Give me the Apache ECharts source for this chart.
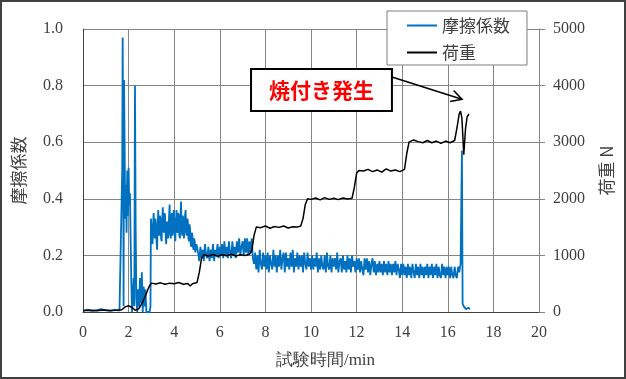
<!DOCTYPE html>
<html><head><meta charset="utf-8">
<script src="https://cdn.jsdelivr.net/npm/echarts@6/dist/echarts.min.js"></script>
<style>html,body{margin:0;padding:0;background:#fff}#c{width:626px;height:379px}</style>
</head><body><div id="c"></div>
<script>
// ---- data (time in min) ----
const frictionEarly = [[0,0.005],[0.2,0.008],[0.4,0.004],[0.6,0.007],[0.8,0.01],[1.0,0.006],[1.2,0.004],[1.4,0.008],[1.6,0.005],[1.68,0.01],
  [1.72,0.5],[1.74,0.97],[1.76,0.6],[1.78,0.02],[1.80,0.82],[1.83,0.55],[1.85,0.33],[1.88,0.45],[1.91,0.28],[1.94,0.50],[1.97,0.34],[2.00,0.51],
  [2.03,0.38],[2.06,0.42],[2.09,0.25],[2.12,0.10],[2.15,0.0],[2.18,0.05],[2.22,0.12],[2.25,0.02],[2.28,0.80],[2.31,0.30],[2.34,0.05],[2.38,0.0],
  [2.42,0.08],[2.46,0.02],[2.50,0.12],[2.54,0.03],[2.58,0.14],[2.62,0.0],[2.66,0.09],[2.70,0.02],[2.74,0.08],[2.78,0.0],[2.85,0.0],[2.92,0.0],[2.96,0.02]];
const frictionRunIn = [[2.98,0.33],[3.00,0.30],[3.025,0.26],[3.05,0.24],[3.075,0.31],[3.10,0.35],[3.125,0.28],[3.15,0.26],[3.175,0.33],[3.20,0.31],[3.225,0.25],[3.25,0.22],
  [3.275,0.30],[3.30,0.36],[3.325,0.29],[3.35,0.27],[3.375,0.34],[3.40,0.33],[3.425,0.26],[3.45,0.25],[3.475,0.32],
  [3.50,0.37],[3.525,0.30],[3.55,0.28],[3.575,0.35],[3.60,0.34],[3.625,0.27],[3.65,0.24],[3.675,0.31],[3.70,0.32],[3.725,0.26],[3.75,0.27],
  [3.775,0.34],[3.80,0.38],[3.825,0.29],[3.85,0.26],[3.875,0.32],[3.90,0.35],[3.925,0.27],[3.95,0.29],[3.975,0.36],[4.00,0.33],
  [4.025,0.27],[4.05,0.25],[4.075,0.32],[4.10,0.36],[4.125,0.29],[4.15,0.28],[4.175,0.35],[4.20,0.34],[4.225,0.27],[4.25,0.26],
  [4.275,0.33],[4.30,0.39],[4.325,0.30],[4.35,0.27],[4.375,0.34],[4.40,0.33],[4.425,0.26],[4.45,0.28],[4.475,0.34],[4.50,0.36],[4.525,0.29],[4.55,0.27],
  [4.575,0.33],[4.60,0.32],[4.625,0.26],[4.65,0.25],[4.675,0.31],[4.70,0.29],[4.725,0.24],[4.75,0.23],[4.775,0.28],[4.80,0.27],[4.825,0.23],[4.85,0.22],
  [4.875,0.26],[4.90,0.25],[4.925,0.21],[4.95,0.21],[4.975,0.24],[5.00,0.23]];
const frictionSteady = [
  [5.05,0.21],[5.10,0.18],[5.15,0.23],[5.20,0.19],[5.25,0.22],[5.30,0.18],[5.35,0.24],[5.40,0.20],[5.45,0.19],[5.50,0.23],
  [5.55,0.18],[5.60,0.22],[5.65,0.19],[5.70,0.24],[5.75,0.18],[5.80,0.22],[5.85,0.20],[5.90,0.24],[5.95,0.19],[6.00,0.23],
  [6.05,0.20],[6.10,0.24],[6.15,0.19],[6.20,0.25],[6.25,0.20],[6.30,0.23],[6.35,0.19],[6.40,0.25],[6.45,0.21],[6.50,0.19],
  [6.55,0.25],[6.60,0.20],[6.65,0.23],[6.70,0.19],[6.75,0.25],[6.80,0.21],[6.85,0.26],[6.90,0.20],[6.95,0.23],[7.00,0.25],
  [7.05,0.20],[7.10,0.26],[7.15,0.21],[7.20,0.26],[7.25,0.20],[7.30,0.25],[7.35,0.21],[7.40,0.26],[7.45,0.19],[7.50,0.17],
  [7.55,0.21],[7.60,0.15],[7.65,0.20],[7.70,0.14],[7.75,0.22],[7.80,0.17],[7.85,0.15],[7.90,0.21],[7.95,0.16],[8.00,0.20],
  [8.05,0.15],[8.10,0.21],[8.15,0.14],[8.20,0.20],[8.25,0.17],[8.30,0.15],[8.35,0.22],[8.40,0.16],[8.45,0.20],[8.50,0.14],
  [8.55,0.20],[8.60,0.16],[8.65,0.22],[8.70,0.15],[8.75,0.19],[8.80,0.21],[8.85,0.14],[8.90,0.21],[8.95,0.16],[9.00,0.19],
  [9.05,0.15],[9.10,0.21],[9.15,0.16],[9.20,0.22],[9.25,0.14],[9.30,0.19],[9.35,0.16],[9.40,0.21],[9.45,0.15],[9.50,0.20],
  [9.55,0.16],[9.60,0.20],[9.65,0.14],[9.70,0.21],[9.75,0.17],[9.80,0.15],[9.85,0.21],[9.90,0.16],[9.95,0.19],[10.00,0.15],
  [10.05,0.20],[10.10,0.15],[10.15,0.19],[10.20,0.16],[10.25,0.21],[10.30,0.14],[10.35,0.19],[10.40,0.15],[10.45,0.20],[10.50,0.16],
  [10.55,0.15],[10.60,0.20],[10.65,0.14],[10.70,0.21],[10.75,0.16],[10.80,0.15],[10.85,0.20],[10.90,0.14],[10.95,0.19],[11.00,0.16],
  [11.05,0.19],[11.10,0.15],[11.15,0.21],[11.20,0.14],[11.25,0.18],[11.30,0.19],[11.35,0.14],[11.40,0.20],[11.45,0.15],[11.50,0.18],
  [11.55,0.14],[11.60,0.20],[11.65,0.15],[11.70,0.19],[11.75,0.14],[11.80,0.20],[11.85,0.16],[11.90,0.18],[11.95,0.14],[12.00,0.19],
  [12.05,0.15],[12.10,0.19],[12.15,0.14],[12.20,0.18],[12.25,0.15],[12.30,0.13],[12.35,0.19],[12.40,0.15],[12.45,0.19],[12.50,0.14],
  [12.55,0.18],[12.60,0.13],[12.65,0.17],[12.70,0.19],[12.75,0.14],[12.80,0.18],[12.85,0.13],[12.90,0.17],[12.95,0.14],[13.00,0.18],
  [13.05,0.14],[13.10,0.17],[13.15,0.13],[13.20,0.18],[13.25,0.14],[13.30,0.17],[13.35,0.13],[13.40,0.18],[13.45,0.14],[13.50,0.17],
  [13.55,0.13],[13.60,0.17],[13.65,0.14],[13.70,0.18],[13.75,0.13],[13.80,0.17],[13.85,0.15],[13.90,0.12],[13.95,0.17],[14.00,0.13],
  [14.05,0.17],[14.10,0.13],[14.15,0.16],[14.20,0.12],[14.25,0.17],[14.30,0.13],[14.35,0.16],[14.40,0.12],[14.45,0.17],[14.50,0.14],
  [14.55,0.12],[14.60,0.17],[14.65,0.13],[14.70,0.16],[14.75,0.12],[14.80,0.17],[14.85,0.13],[14.90,0.16],[14.95,0.12],[15.00,0.16],
  [15.05,0.13],[15.10,0.17],[15.15,0.12],[15.20,0.16],[15.25,0.13],[15.30,0.17],[15.35,0.12],[15.40,0.16],[15.45,0.13],[15.50,0.17],
  [15.55,0.12],[15.60,0.16],[15.65,0.13],[15.70,0.12],[15.75,0.17],[15.80,0.13],[15.85,0.16],[15.90,0.12],[15.95,0.16],[16.00,0.13],
  [16.05,0.16],[16.10,0.12],[16.15,0.16],[16.20,0.13],[16.25,0.12],[16.30,0.16],[16.35,0.13],[16.40,0.12],[16.45,0.16],[16.50,0.14],
  [16.56,0.17]];
const frictionSeizure = [[16.62,0.57],[16.65,0.03],[16.7,0.02],[16.8,0.01],[16.9,0.015],[16.97,0.01]];

const loadPoints = [[0,20],[0.3,30],[0.6,20],[0.9,35],[1.2,25],[1.5,30],[1.7,40],[1.85,90],[2.0,110],[2.15,80],[2.3,30],[2.45,60],[2.6,160],
  [2.75,300],[2.9,450],[3.0,510],[3.2,495],[3.4,515],[3.6,490],[3.8,510],[4.0,500],[4.2,520],[4.4,490],[4.6,505],[4.7,460],[4.8,500],
  [5.0,520],[5.1,700],[5.2,950],[5.3,1010],[5.5,990],[5.7,1015],[5.9,985],[6.1,1010],[6.3,995],[6.5,1020],[6.7,990],[6.9,1010],[7.1,1000],
  [7.3,1020],[7.4,1080],[7.5,1350],[7.6,1500],[7.8,1490],[8.0,1520],[8.2,1480],[8.4,1510],[8.6,1495],[8.8,1520],[9.0,1485],[9.2,1505],
  [9.4,1500],[9.55,1520],[9.65,1650],[9.75,1900],[9.85,2000],[10.0,1990],[10.2,2015],[10.4,1980],[10.6,2020],[10.8,1990],[11.0,2010],
  [11.2,1985],[11.4,2015],[11.6,1995],[11.8,2010],[11.9,2200],[12.0,2450],[12.1,2500],[12.3,2490],[12.5,2520],[12.7,2480],[12.9,2510],
  [13.1,2470],[13.3,2530],[13.5,2490],[13.7,2510],[13.9,2480],[14.1,2520],[14.2,2800],[14.3,3000],[14.5,3040],[14.7,3010],[14.9,2990],
  [15.1,3030],[15.3,2990],[15.5,3020],[15.7,2980],[15.9,3020],[16.1,2990],[16.3,3030],[16.4,3250],[16.5,3500],[16.56,3550],[16.62,3420],
  [16.7,2780],[16.78,3250],[16.85,3450],[16.93,3500]];

const frictionPoints = frictionEarly.concat(frictionRunIn, frictionSteady, frictionSeizure);

const seriesNames = ['摩擦係数', '荷重'];
const seriesColors = ['#0070C0', '#000000'];
const annotationText = '焼付き発生';
const annoBox = [7.37, 0.859, 13.55, 0.71];      // data coords [t1, mu1, t2, mu2]
const annoArrow = [[13.55, 0.83], [16.62, 0.752]]; // data coords

const serifFont = 'Liberation Serif';
const cjkFont = 'Noto Sans CJK JP';
const txt = '#404040';

const option = {
  animation: false,
  backgroundColor: '#fff',
  grid: { left: 83, right: 87, top: 29, bottom: 67 },
  legend: {
    orient: 'vertical', left: 387, top: 11,
    padding: [6, 17, 4, 20], itemGap: 10,
    itemWidth: 30, itemHeight: 2, icon: 'rect',
    backgroundColor: '#fff', borderColor: '#7f7f7f', borderWidth: 1,
    textStyle: { fontSize: 17, lineHeight: 17, color: txt, fontFamily: cjkFont },
    data: seriesNames
  },
  xAxis: {
    type: 'value', min: 0, max: 20, interval: 2,
    name: '試験時間/min', nameLocation: 'middle', nameGap: 40,
    nameTextStyle: { fontSize: 17, color: txt, fontFamily: serifFont, padding: [0, 0, 0, 29] },
    axisLine: { lineStyle: { color: '#404040', width: 1 } },
    axisTick: { show: false },
    axisLabel: { fontSize: 16, color: txt, fontFamily: serifFont, margin: 13 },
    splitLine: { show: true, lineStyle: { color: '#858585', width: 1 } }
  },
  yAxis: [{
    type: 'value', min: 0, max: 1, interval: 0.2, position: 'left',
    name: '摩擦係数', nameLocation: 'middle', nameGap: 56, nameRotate: 90,
    nameTextStyle: { fontSize: 17, color: txt, fontFamily: cjkFont },
    axisLine: { show: true, lineStyle: { color: '#404040', width: 1 } },
    axisTick: { show: false },
    axisLabel: { fontSize: 16, color: txt, fontFamily: serifFont, margin: 20, formatter: v => v.toFixed(1) },
    splitLine: { show: true, lineStyle: { color: '#858585', width: 1 } }
  }, {
    type: 'value', min: 0, max: 5000, interval: 1000, position: 'right',
    name: '荷重 N', nameLocation: 'middle', nameGap: 59, nameRotate: 90,
    nameTextStyle: { fontSize: 17, color: txt, fontFamily: cjkFont },
    axisLine: { show: true, lineStyle: { color: '#858585', width: 1 } },
    axisTick: { show: true, inside: false, length: 6, lineStyle: { color: '#858585' } },
    axisLabel: { fontSize: 16, color: txt, fontFamily: serifFont, margin: 14, formatter: v => String(v) },
    splitLine: { show: false }
  }],
  series: [{
    name: seriesNames[0], type: 'line', yAxisIndex: 0, data: frictionPoints,
    showSymbol: false, symbol: 'none', z: 2,
    lineStyle: { color: seriesColors[0], width: 1.8 }, itemStyle: { color: seriesColors[0] }
  }, {
    name: seriesNames[1], type: 'line', yAxisIndex: 1, data: loadPoints,
    showSymbol: false, symbol: 'none', z: 3,
    lineStyle: { color: seriesColors[1], width: 1.5 }, itemStyle: { color: seriesColors[1] }
  }]
};

const chart = echarts.init(document.getElementById('c'), null, { renderer: 'canvas', width: 626, height: 379 });
chart.setOption(option);

const toPx = d => chart.convertToPixel({ xAxisIndex: 0, yAxisIndex: 0 }, d);
const b1 = toPx([annoBox[0], annoBox[1]]), b2 = toPx([annoBox[2], annoBox[3]]);
const a1 = toPx(annoArrow[0]), a2 = toPx(annoArrow[1]);
const dx = a2[0] - a1[0], dy = a2[1] - a1[1], len = Math.hypot(dx, dy);
const ux = dx / len, uy = dy / len, hl = 12, ang = 0.5;
const wing = s => [a2[0] - hl * (ux * Math.cos(ang) - s * uy * Math.sin(ang)), a2[1] - hl * (uy * Math.cos(ang) + s * ux * Math.sin(ang))];

chart.setOption({
  graphic: [
    { type: 'rect', z: 100, silent: true, shape: { x: 1, y: 1, width: 624, height: 377 }, style: { fill: 'none', stroke: '#404040', lineWidth: 2 } },
    { type: 'line', z: 100, shape: { x1: a1[0], y1: a1[1], x2: a2[0], y2: a2[1] }, style: { stroke: '#000', lineWidth: 1.6 } },
    { type: 'polyline', z: 100, shape: { points: [wing(1), a2, wing(-1)] }, style: { stroke: '#000', lineWidth: 1.6, fill: 'none' } },
    { type: 'rect', z: 101, shape: { x: b1[0], y: b1[1], width: b2[0] - b1[0], height: b2[1] - b1[1] }, style: { fill: '#fff', stroke: '#000', lineWidth: 2 } },
    { type: 'text', z: 102, x: (b1[0] + b2[0]) / 2, y: (b1[1] + b2[1]) / 2,
      style: { text: annotationText, align: 'center', verticalAlign: 'middle', fill: '#ff0000', fontSize: 21, fontWeight: 'bold', fontFamily: cjkFont } }
  ]
});
</script></body></html>
